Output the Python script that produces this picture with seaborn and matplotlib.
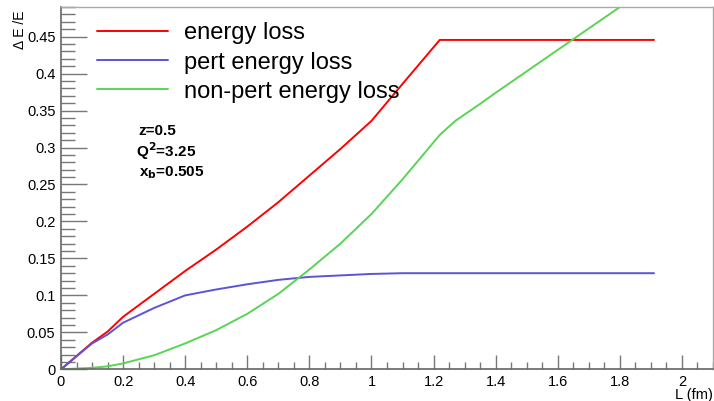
import matplotlib
matplotlib.use("Agg")
import matplotlib.pyplot as plt
import matplotlib.ticker as mticker
import pandas as pd
import seaborn as sns

# path length L (fm)
L = [0, 0.1, 0.15, 0.2, 0.3, 0.4, 0.5, 0.6, 0.7, 0.8, 0.9, 1.0, 1.1,
     1.22, 1.27, 1.35, 1.4, 1.5, 1.6, 1.7, 1.8, 1.91]

# Delta E / E
energy_loss = [0, 0.036, 0.051, 0.071, 0.102, 0.133, 0.162, 0.193, 0.226,
               0.262, 0.298, 0.336, 0.386, 0.4455, 0.4455, 0.4455, 0.4455,
               0.4455, 0.4455, 0.4455, 0.4455, 0.4455]
pert_loss = [0, 0.035, 0.047, 0.063, 0.083, 0.100, 0.108, 0.115, 0.121,
             0.125, 0.127, 0.129, 0.130, 0.130, 0.130, 0.130, 0.130, 0.130,
             0.130, 0.130, 0.130, 0.130]
nonpert_loss = [0, 0.002, 0.004, 0.008, 0.019, 0.035, 0.053, 0.075, 0.102,
                0.135, 0.170, 0.210, 0.257, 0.317, 0.336, 0.359, 0.374,
                0.403, 0.432, 0.461, 0.490, 0.522]

labels = ["energy loss", "pert energy loss", "non-pert energy loss"]
colors = ["#ff0000", "#5954d8", "#59d454"]

df = pd.concat([
    pd.DataFrame({"L": L, "dE": vals, "curve": lab})
    for vals, lab in zip([energy_loss, pert_loss, nonpert_loss], labels)
])

sns.set_style("white")
plt.rcParams["font.family"] = ["Liberation Sans", "DejaVu Sans"]
plt.rcParams["text.color"] = "black"
plt.rcParams["xtick.color"] = "black"
plt.rcParams["ytick.color"] = "black"

fig = plt.figure(figsize=(7.14, 4.01), dpi=100)
ax = fig.add_axes([0.0854, 0.079, 0.9132, 0.9035])

sns.lineplot(data=df, x="L", y="dE", hue="curve", palette=colors,
             estimator=None, sort=False, lw=1.4, ax=ax)

ax.set_xlim(0, 2.1)
ax.set_ylim(0, 0.49)
ax.set_xlabel("")
ax.set_ylabel("")

ax.xaxis.set_major_locator(mticker.MultipleLocator(0.2))
ax.xaxis.set_minor_locator(mticker.MultipleLocator(0.05))
ax.yaxis.set_major_locator(mticker.MultipleLocator(0.05))
ax.yaxis.set_minor_locator(mticker.MultipleLocator(0.01))
fmt = mticker.FuncFormatter(lambda v, p: f"{v:.2f}".rstrip("0").rstrip("."))
ax.xaxis.set_major_formatter(fmt)
ax.yaxis.set_major_formatter(fmt)

ax.tick_params(axis="both", which="both", direction="in", color="#777777",
               labelcolor="black", labelsize=10.5, bottom=True, left=True,
               top=False, right=False, width=1.0)
ax.tick_params(axis="x", which="major", length=10, pad=4)
ax.tick_params(axis="x", which="minor", length=5)
ax.tick_params(axis="y", which="major", length=19, pad=4)
ax.tick_params(axis="y", which="minor", length=10)

for side in ["left", "bottom"]:
    ax.spines[side].set_color("#666666")
    ax.spines[side].set_linewidth(1.2)
for side in ["top", "right"]:
    ax.spines[side].set_color("#aaaaaa")
    ax.spines[side].set_linewidth(1.0)

handles, _ = ax.get_legend_handles_labels()
leg = ax.legend(handles, labels, loc="upper left",
                bbox_to_anchor=(0.037, 0.99), frameon=False, fontsize=17,
                handlelength=3.0, handletextpad=0.68, labelspacing=0.3,
                borderpad=0)
for t in leg.get_texts():
    t.set_color("black")

ax.text(0.118, 0.658, "z=0.5", transform=ax.transAxes, fontsize=11,
        fontweight="bold", ha="left", va="center")
ax.text(0.115, 0.601, "Q$^{\\mathbf{2}}$=3.25", transform=ax.transAxes,
        fontsize=11, fontweight="bold", ha="left", va="center")
ax.text(0.12, 0.543, "x$_{\\mathbf{b}}$=0.505", transform=ax.transAxes,
        fontsize=11, fontweight="bold", ha="left", va="center")

fig.text(0.028, 0.975, "Δ E /E", rotation=90, ha="center", va="top",
         fontsize=10)
fig.text(0.998, 0.016, "L (fm)", ha="right", va="center", fontsize=10.5)

fig.savefig("out.png", dpi=100)
